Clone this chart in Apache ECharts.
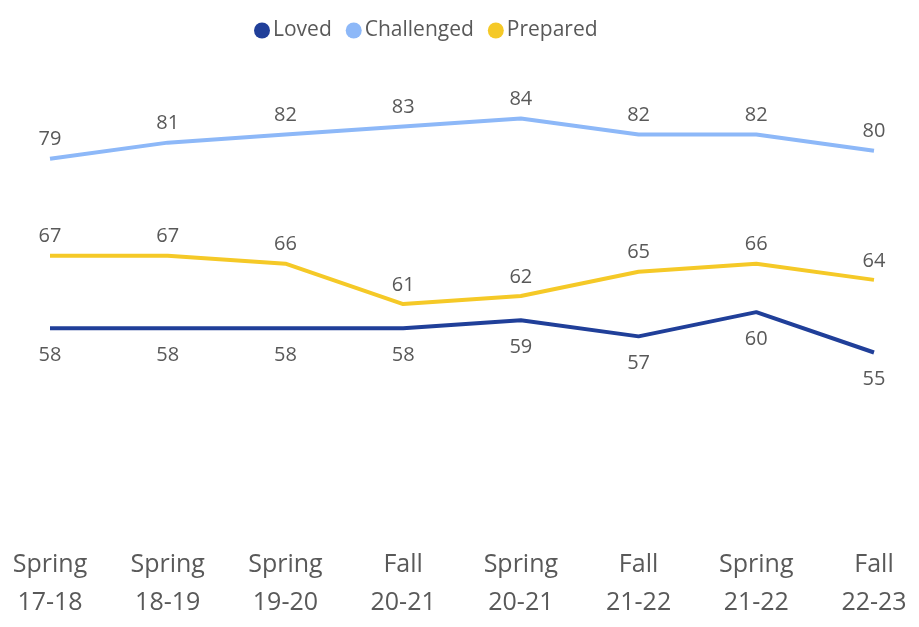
<!DOCTYPE html>
<html>
<head>
<meta charset="utf-8">
<script src="https://cdn.jsdelivr.net/npm/echarts@6/dist/echarts.min.js"></script>
<style>html,body{margin:0;padding:0;background:#fff}#c{width:919px;height:627px}</style>
</head>
<body>
<div id="c"></div>
<script>
var categories = ["Spring\n17-18","Spring\n18-19","Spring\n19-20","Fall\n20-21","Spring\n20-21","Fall\n21-22","Spring\n21-22","Fall\n22-23"];
var loved = [58,58,58,58,59,57,60,55];
var challenged = [79,81,82,83,84,82,82,80];
var prepared = [67,67,66,61,62,65,66,64];

var font = "'Open Sans', 'Liberation Sans', sans-serif";
var gray = "#595959";
function mk(name, data, color, pos, dist) {
  return {
    name: name, type: 'line', data: data, symbol: 'circle', symbolSize: 0.1, showSymbol: true,
    lineStyle: {width: 4, color: color}, itemStyle: {color: color},
    label: {show: true, position: pos, distance: dist, color: gray, fontSize: 20, fontFamily: font}
  };
}
var chart = echarts.init(document.getElementById('c'));
chart.setOption({
  animation: false,
  legend: {
    top: 15, left: 249, icon: 'circle', itemWidth: 16, itemHeight: 16, itemGap: 14,
    textStyle: {color: gray, fontSize: 21, fontFamily: font, padding: [0,0,0,-2]},
    data: ['Loved','Challenged','Prepared']
  },
  grid: {left: 50, right: 45, top: 70, bottom: 105},
  xAxis: {
    type: 'category', data: categories, boundaryGap: false,
    axisLine: {show: false}, axisTick: {show: false},
    axisLabel: {color: gray, fontSize: 25, lineHeight: 38, fontFamily: font, margin: 24, interval: 0}
  },
  yAxis: {type: 'value', min: 34, max: 90, show: false, splitLine: {show: false}},
  series: [
    mk('Loved', loved, '#203F99', 'bottom', 17),
    mk('Challenged', challenged, '#8DB8F8', 'top', 9),
    mk('Prepared', prepared, '#F5C927', 'top', 9)
  ]
});
</script>
</body>
</html>
